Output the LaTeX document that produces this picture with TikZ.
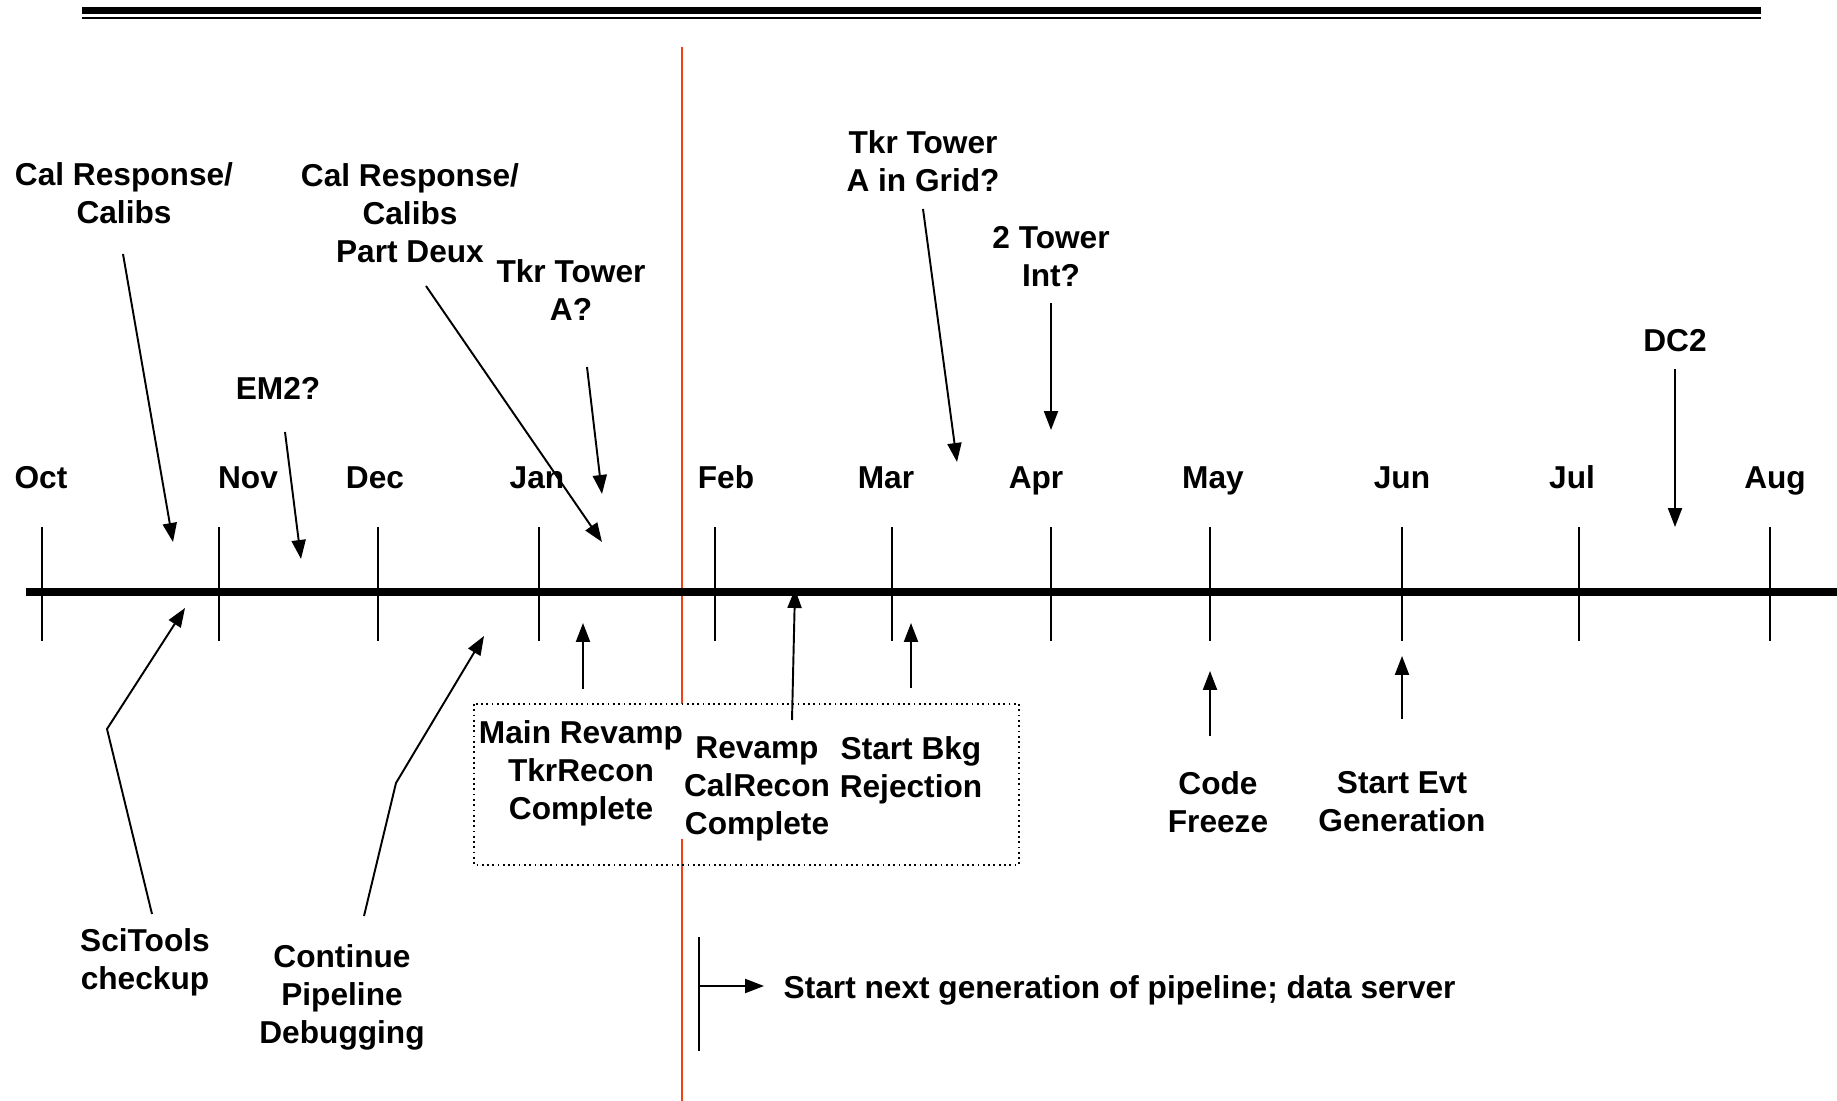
\documentclass[tikz,border=0pt]{standalone}
\usepackage{fontspec}
\setmainfont{Liberation Sans}
\usetikzlibrary{arrows.meta}
\definecolor{nowred}{RGB}{240,64,20}
\tikzset{
  lbl/.style={font=\bfseries\fontsize{9}{10.8}\selectfont, align=center, inner sep=0pt},
  arr/.style={-{Triangle[length=5.4pt,width=4pt]}, line width=0.55pt},
  monthtick/.style={line width=0.45pt},
}
\begin{document}
\begin{tikzpicture}[x=0.01cm, y=-0.01cm]
\useasboundingbox (0,0) rectangle (1837,1101);
% header rule
\draw[line width=2.1pt] (82,10.3) -- (1761,10.3);
\draw[line width=0.65pt] (82,18) -- (1761,18);
% today
\draw[nowred, line width=0.55pt] (682,47) -- (682,704);
\draw[nowred, line width=0.55pt] (682,839) -- (682,1101);
% time axis
\draw[line width=2pt] (26,592) -- (1837,592);
\foreach \m/\lx/\tx in {Oct/41/42, Nov/248/219, Dec/375/378, Jan/537/539, Feb/726/715, Mar/886/892, Apr/1036/1051, May/1213/1210, Jun/1402/1402, Jul/1572/1579, Aug/1775/1770}{
  \draw[monthtick] (\tx,527) -- (\tx,641);
  \node[lbl, anchor=base] (m\m) at (\lx,489) {\m};
}
% milestones above
\node[lbl] (calA) at (124,193) {Cal Response/\\Calibs};
\node[lbl] (em) at (278,388) {EM2?};
\node[lbl] (calB) at (410,213) {Cal Response/\\Calibs\\Part Deux};
\node[lbl] (tkrA) at (571,290) {Tkr Tower\\A?};
\node[lbl] (tkrGrid) at (923,161) {Tkr Tower\\A in Grid?};
\node[lbl] (twoT) at (1051,257) {2 Tower\\Int?};
\node[lbl] (dc) at (1675,341) {DC2};
\coordinate (calAs) at (123,254);   \coordinate (calAe) at (173,542);
\coordinate (ems) at (285,432);     \coordinate (eme) at (301,559);
\coordinate (calBs) at (426,286);   \coordinate (calBe) at (602,542);
\coordinate (tkrAs) at (587,367);   \coordinate (tkrAe) at (602,494);
\coordinate (grids) at (923,209);   \coordinate (gride) at (957,462);
\coordinate (twoTs) at (1051,303);  \coordinate (twoTe) at (1051,430);
\coordinate (dcs) at (1675,369);    \coordinate (dce) at (1675,527);
\draw[arr] (calAs) -- (calAe);
\draw[arr] (ems) -- (eme);
\draw[arr] (calBs) -- (calBe);
\draw[arr] (tkrAs) -- (tkrAe);
\draw[arr] (grids) -- (gride);
\draw[arr] (twoTs) -- (twoTe);
\draw[arr] (dcs) -- (dce);
% milestones below
\draw[densely dotted, line width=0.5pt] (474,704) rectangle (1019,865);
\node[lbl] (sci) at (145,962) {SciTools\\checkup};
\node[lbl] (cont) at (342,997) {Continue\\Pipeline\\Debugging};
\node[lbl] (mainrev) at (581,773) {Main Revamp\\TkrRecon\\Complete};
\node[lbl] (calrev) at (757,789) {Revamp\\CalRecon\\Complete};
\node[lbl] (bkg) at (911,770) {Start Bkg\\Rejection};
\node[lbl] (freeze) at (1218,802) {Code\\Freeze};
\node[lbl] (evt) at (1402,802) {Start Evt\\Generation};
\node[lbl, anchor=west] (next) at (783,990) {Start next generation of pipeline; data server};
\coordinate (scis) at (152,914);    \coordinate (scik) at (107,729);   \coordinate (scie) at (185,608);
\coordinate (conts) at (364,916);   \coordinate (contk) at (396,783);  \coordinate (conte) at (484,636);
\coordinate (mains) at (583,689);   \coordinate (maine) at (583,623);
\coordinate (cals) at (792,720);    \coordinate (cale) at (795,589);
\coordinate (bkgs) at (911,688);    \coordinate (bkge) at (911,623);
\coordinate (frzs) at (1210,736);   \coordinate (frze) at (1210,671);
\coordinate (evts) at (1402,719);   \coordinate (evte) at (1402,656);
\draw[arr] (scis) -- (scik) -- (scie);
\draw[arr] (conts) -- (contk) -- (conte);
\draw[arr] (mains) -- (maine);
\draw[arr] (cals) -- (cale);
\draw[arr] (bkgs) -- (bkge);
\draw[arr] (frzs) -- (frze);
\draw[arr] (evts) -- (evte);
% next generation bracket
\coordinate (brt) at (699,937); \coordinate (brb) at (699,1051);
\coordinate (brm) at (699,986); \coordinate (bre) at (764,986);
\draw[line width=0.55pt] (brt) -- (brb);
\draw[arr] (brm) -- (bre);
\end{tikzpicture}
\end{document}
